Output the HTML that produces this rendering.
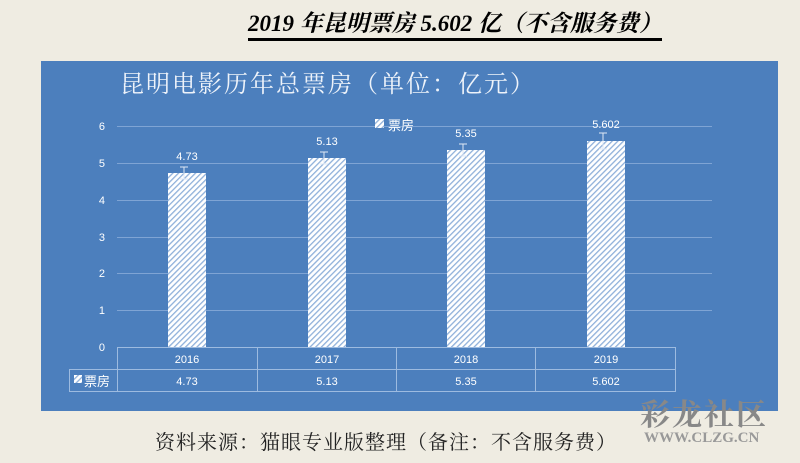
<!DOCTYPE html>
<html><head><meta charset="utf-8"><style>
body{margin:0;width:800px;height:463px;background:#efece2;overflow:hidden;position:relative;font-family:"Liberation Sans","Noto Sans CJK SC",sans-serif}
.t{position:absolute;white-space:nowrap}
</style></head><body>
<div class="t" style="left:248px;top:10px;font-size:23px;font-weight:bold;font-style:italic;color:#000;font-family:'Liberation Serif','Noto Serif CJK SC',serif;border-bottom:3px solid #000;line-height:28px">2019 年昆明票房 5.602 亿（不含服务费）</div>
<div style="position:absolute;left:41px;top:61px;width:737px;height:350px;background:#4c7fbd"></div>
<svg style="position:absolute;left:0;top:0" width="800" height="463">
<defs><pattern id="h" width="4" height="4" patternUnits="userSpaceOnUse" patternTransform="rotate(45)"><rect width="4" height="4" fill="#ffffff"/><rect width="1.3" height="4" fill="#8fb0da"/></pattern></defs>
<g stroke="#7fa4d4" stroke-width="1">
<line x1="117" y1="126.5" x2="712" y2="126.5"/><line x1="117" y1="163.5" x2="712" y2="163.5"/><line x1="117" y1="200.5" x2="712" y2="200.5"/><line x1="117" y1="237.5" x2="712" y2="237.5"/><line x1="117" y1="273.5" x2="712" y2="273.5"/><line x1="117" y1="310.5" x2="712" y2="310.5"/>
</g>
<g fill="url(#h)">
<rect x="168" y="173" width="38" height="174"/><rect x="308" y="158" width="38" height="189"/><rect x="447" y="150" width="38" height="197"/><rect x="587" y="141" width="38" height="206"/>
</g>
<g stroke="#dfe8f5" stroke-width="1" fill="none">
<path d="M184 167v12M180 167h8M180 179h8M324 152v12M320 152h8M320 164h8M463 144v12M459 144h8M459 156h8M603 133v16M599 133h8M599 149h8"/>
</g>
<g stroke="#9dbbe0" stroke-width="1" fill="none">
<path d="M117 347.5H675.5V391.5H69.5V369.5H675.5M117.5 347.5V391.5M257.5 347.5V391.5M396.5 347.5V391.5M535.5 347.5V391.5"/>
</g>
<g fill="#fff" font-size="11" font-family="Liberation Sans,sans-serif">
<text x="105" y="130" text-anchor="end">6</text><text x="105" y="167" text-anchor="end">5</text><text x="105" y="204" text-anchor="end">4</text><text x="105" y="241" text-anchor="end">3</text><text x="105" y="277" text-anchor="end">2</text><text x="105" y="314" text-anchor="end">1</text><text x="105" y="351" text-anchor="end">0</text>
<text x="187" y="160" text-anchor="middle">4.73</text><text x="327" y="145" text-anchor="middle">5.13</text><text x="466" y="137" text-anchor="middle">5.35</text><text x="606" y="128" text-anchor="middle">5.602</text>
<text x="187" y="363" text-anchor="middle">2016</text><text x="327" y="363" text-anchor="middle">2017</text><text x="466" y="363" text-anchor="middle">2018</text><text x="606" y="363" text-anchor="middle">2019</text>
<text x="187" y="385" text-anchor="middle">4.73</text><text x="327" y="385" text-anchor="middle">5.13</text><text x="466" y="385" text-anchor="middle">5.35</text><text x="606" y="385" text-anchor="middle">5.602</text>
</g>
<rect x="375" y="119" width="9" height="9" fill="url(#h)"/>
<rect x="74" y="375" width="8" height="8" fill="url(#h)"/>
</svg>
<div class="t" style="left:120px;top:64px;font-size:24px;letter-spacing:2px;color:#eef3fa;font-family:'Noto Serif CJK SC',serif">昆明电影历年总票房（单位：亿元）</div>
<div class="t" style="left:388px;top:115px;font-size:13px;color:#fff">票房</div>
<div class="t" style="left:84px;top:371px;font-size:13px;color:#fff">票房</div>
<div class="t" style="left:155px;top:426px;font-size:20px;letter-spacing:1px;color:#222;font-family:'Noto Serif CJK SC',serif">资料来源：猫眼专业版整理（备注：不含服务费）</div>
<div class="t" style="left:640px;top:390px;font-size:30px;color:#888;font-weight:bold;font-family:'Noto Serif CJK SC',serif;letter-spacing:2px">彩龙社区</div>
<div class="t" style="left:644px;top:430px;font-size:15px;color:#999;font-weight:bold;font-family:'Liberation Serif',serif">WWW.CLZG.CN</div>
</body></html>
